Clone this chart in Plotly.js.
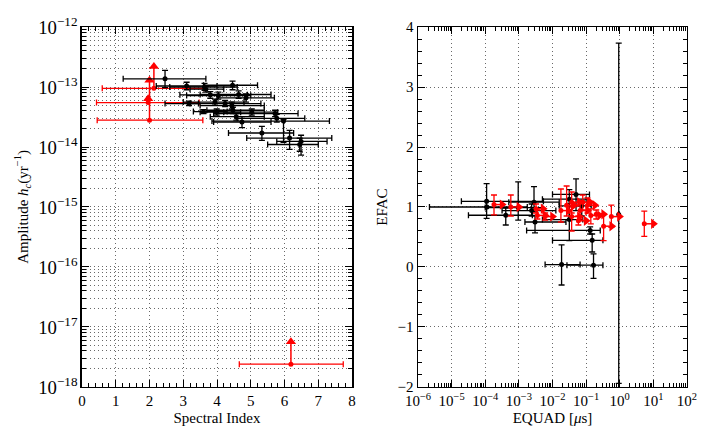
<!DOCTYPE html>
<html>
<head>
<meta charset="utf-8">
<script src="https://cdn.plot.ly/plotly-3.0.1.min.js"></script>
<style>body{margin:0}#plot{width:718px;height:448px}</style>
</head>
<body>
<div id="plot"></div>
<script>
// left panel: spectral index vs amplitude
var specIdx   = [2.46,3.10,3.63,3.67,4.46,3.80,4.04,4.64,4.86,3.17,3.94,4.24,4.44,3.60,3.99,4.47,5.03,4.57,4.74,5.72,5.77,5.97,5.33,6.15,6.49,6.45];
var specLo    = [1.22,2.20,2.60,3.20,3.60,2.90,3.10,3.50,4.00,2.46,3.00,3.20,3.50,3.30,3.50,3.70,4.20,3.80,3.90,3.90,4.60,3.85,4.34,4.88,5.77,5.50];
var specHi    = [3.67,4.00,4.60,4.20,5.20,4.90,5.00,5.60,5.70,3.45,4.80,5.30,5.40,4.30,4.70,5.40,5.80,5.40,5.60,6.40,6.60,7.33,6.27,7.40,7.26,7.00];
var amp       = [1.37e-13,1.04e-13,1.0e-13,0.92e-13,1.07e-13,7.4e-14,7.2e-14,7.5e-14,6.6e-14,5.3e-14,5.6e-14,5.3e-14,4.9e-14,3.9e-14,3.8e-14,4.1e-14,3.8e-14,3.2e-14,2.6e-14,3.6e-14,3.0e-14,2.7e-14,1.71e-14,1.41e-14,1.24e-14,1.1e-14];
var ampLo     = [0.98e-13,0.9e-13,0.88e-13,0.82e-13,0.9e-13,6.5e-14,6.3e-14,6.5e-14,5.6e-14,4.9e-14,5.0e-14,4.7e-14,4.3e-14,3.6e-14,3.4e-14,3.6e-14,3.4e-14,2.8e-14,2.1e-14,3.2e-14,2.6e-14,1.2e-14,1.29e-14,9.1e-15,7.3e-15,8.5e-15];
var ampHi     = [1.9e-13,1.2e-13,1.15e-13,1.02e-13,1.25e-13,8.4e-14,8.2e-14,8.6e-14,7.7e-14,5.8e-14,6.3e-14,6.0e-14,5.6e-14,4.2e-14,4.3e-14,4.6e-14,4.3e-14,3.6e-14,3.2e-14,4.1e-14,3.5e-14,2.9e-14,2.21e-14,1.9e-14,1.57e-14,1.4e-14];

var limIdx    = [2.00,1.96,2.13,6.19];
var limIdxLo  = [0.45,0.43,0.60,4.66];
var limIdxHi  = [3.58,3.47,3.60,7.74];
var limAmp    = [2.8e-14,5.5e-14,9.5e-14,2.4e-18];
var limAmpTip = [1.29e-13,6.4e-14,2.2e-13,5.7e-18];

// right panel: log10 EQUAD vs EFAC
var eqLog   = [-3.96,-3.95,-3.39,-3.02,-2.55,-2.62,-2.52,-1.73,-0.78,-0.88,-0.82,-1.50,-1.30,-1.13,-1.50,-0.03];
var eqLogLo = [-4.71,-5.66,-4.50,-4.00,-3.30,-3.50,-2.82,-2.22,-1.57,-2.77,-2.00,-2.30,-2.00,-1.80,-2.30,-0.03];
var eqLogHi = [-2.27,-2.75,-2.60,-2.30,-1.80,-1.90,-1.60,-1.18,-0.50,-0.58,-0.50,-1.00,-0.90,-0.85,-1.10,-0.03];
var efac    = [1.095,1.00,0.862,0.99,1.08,0.94,0.75,0.04,0.03,0.61,0.445,1.13,1.21,1.02,0.79,0.876];
var efacLo  = [0.81,1.00,0.70,0.78,0.92,0.85,0.57,-0.30,-0.19,0.55,0.25,0.78,0.94,0.85,0.44,-1.94];
var efacHi  = [1.39,1.00,0.98,1.42,1.34,1.05,0.86,0.37,0.22,0.67,0.55,1.29,1.47,1.10,1.06,3.73];

var limEqLog  = [-3.74,-3.24,-2.49,-2.45,-2.22,-1.75,-1.58,-1.43,-1.10,-0.96,-1.18,-1.43,-1.23,-0.86,-0.48,-0.25,0.73,-0.70];
var limEqTip  = [-3.50,-3.00,-2.28,-2.22,-2.00,-1.53,-1.36,-1.20,-0.88,-0.74,-0.96,-1.20,-1.00,-0.60,-0.24,-0.01,1.00,-0.48];
var limEfac   = [1.04,1.00,0.97,0.86,0.84,0.94,1.03,1.08,1.08,1.03,0.94,0.84,0.77,0.86,0.68,0.84,0.72,0.88];
var limEfacLo = [0.87,0.85,0.90,0.80,0.78,0.75,0.85,0.90,0.95,0.90,0.80,0.60,0.70,0.72,0.44,0.66,0.51,0.80];
var limEfacHi = [1.20,1.20,1.05,0.95,0.90,1.30,1.35,1.25,1.20,1.15,1.10,1.00,0.85,0.97,0.89,1.03,0.93,0.95];

// decade tick labels for the EQUAD axis
var eqDecades = [-6,-5,-4,-3,-2,-1,0,1,2];

function pow10(a) { return a.map(function (v) { return Math.pow(10, v); }); }
function diff(a, b) { return a.map(function (v, i) { return v - b[i]; }); }
function segs(x0, x1, y0, y1) {
  var xs = [], ys = [];
  for (var i = 0; i < x0.length; i++) { xs.push(x0[i], x1[i], null); ys.push(y0[i], y1[i], null); }
  return {x: xs, y: ys};
}

var RED = '#ff0000';
var eq = pow10(eqLog), eqLo = pow10(eqLogLo), eqHi = pow10(eqLogHi);
var leq = pow10(limEqLog), leqTip = pow10(limEqTip);
var upL = segs(limIdx, limIdx, limAmp, limAmpTip);
var upR = segs(leq, leqTip, limEfac, limEfac);

var data = [
  { x: limIdx, y: limAmp, type: 'scatter', mode: 'markers', xaxis: 'x', yaxis: 'y',
    marker: {color: RED, size: 5},
    error_x: {type: 'data', symmetric: false, array: diff(limIdxHi, limIdx), arrayminus: diff(limIdx, limIdxLo), color: RED, thickness: 1.3, width: 3} },
  { x: upL.x, y: upL.y, mode: 'lines', xaxis: 'x', yaxis: 'y', line: {color: RED, width: 1.5} },
  { x: limIdx, y: limAmpTip, mode: 'markers', xaxis: 'x', yaxis: 'y', marker: {color: RED, size: 9, symbol: 'triangle-up'} },
  { x: specIdx, y: amp, type: 'scatter', mode: 'markers', xaxis: 'x', yaxis: 'y',
    marker: {color: 'black', size: 5},
    error_x: {type: 'data', symmetric: false, array: diff(specHi, specIdx), arrayminus: diff(specIdx, specLo), color: 'black', thickness: 1.3, width: 3},
    error_y: {type: 'data', symmetric: false, array: diff(ampHi, amp), arrayminus: diff(amp, ampLo), color: 'black', thickness: 1.3, width: 3} },

  { x: eq, y: efac, type: 'scatter', mode: 'markers', xaxis: 'x2', yaxis: 'y2',
    marker: {color: 'black', size: 5},
    error_x: {type: 'data', symmetric: false, array: diff(eqHi, eq), arrayminus: diff(eq, eqLo), color: 'black', thickness: 1.3, width: 3},
    error_y: {type: 'data', symmetric: false, array: diff(efacHi, efac), arrayminus: diff(efac, efacLo), color: 'black', thickness: 1.3, width: 3} },
  { x: leq, y: limEfac, type: 'scatter', mode: 'markers', xaxis: 'x2', yaxis: 'y2',
    marker: {color: RED, size: 5},
    error_y: {type: 'data', symmetric: false, array: diff(limEfacHi, limEfac), arrayminus: diff(limEfac, limEfacLo), color: RED, thickness: 1.3, width: 3} },
  { x: upR.x, y: upR.y, mode: 'lines', xaxis: 'x2', yaxis: 'y2', line: {color: RED, width: 1.5} },
  { x: leqTip, y: limEfac, mode: 'markers', xaxis: 'x2', yaxis: 'y2', marker: {color: RED, size: 9, symbol: 'triangle-right'} }
];

var FONT = {family: 'Liberation Serif, serif', size: 15, color: 'black'};
var grid = {showgrid: true, gridcolor: '#444', gridwidth: 0.8, griddash: '1px,3px'};
function axis(extra) {
  var a = {showline: true, linecolor: 'black', linewidth: 1.5, mirror: 'allticks', ticks: 'inside', ticklen: 7,
           tickcolor: 'black', zeroline: false, tickfont: FONT};
  for (var k in grid) a[k] = grid[k];
  for (var k2 in extra) a[k2] = extra[k2];
  return a;
}

var layout = {
  width: 718, height: 448, margin: {l: 0, r: 0, t: 0, b: 0},
  showlegend: false, paper_bgcolor: 'white', plot_bgcolor: 'white', font: FONT,
  xaxis: axis({domain: [0.1142, 0.4903], range: [0, 8], dtick: 1, anchor: 'y',
    minor: {dtick: 0.2, ticks: 'inside', ticklen: 4, tickcolor: 'black', showgrid: false},
    title: {text: 'Spectral Index', font: FONT, standoff: 4}}),
  yaxis: axis({domain: [0.1362, 0.9397], type: 'log', range: [-18, -12], dtick: 1, exponentformat: 'power', anchor: 'x',
    minor: {dtick: 'D1', ticks: 'inside', ticklen: 4, tickcolor: 'black', showgrid: true, gridcolor: '#444', gridwidth: 0.8, griddash: '1px,3px'},
    title: {text: 'Amplitude <i>h</i><sub><i>c</i></sub>(yr<sup>−1</sup>)', font: FONT, standoff: 6}}),
  xaxis2: axis({domain: [0.5822, 0.9568], type: 'log', range: [-6, 2], anchor: 'y2',
    tickmode: 'array', tickvals: pow10(eqDecades),
    ticktext: eqDecades.map(function (d) { return '10<sup>' + String(d).replace('-', '−') + '</sup>'; }),
    minor: {dtick: 'D1', ticks: 'inside', ticklen: 4, tickcolor: 'black', showgrid: false},
    title: {text: 'EQUAD [<i>μ</i>s]', font: FONT, standoff: 4}}),
  yaxis2: axis({domain: [0.1362, 0.9397], range: [-2, 4], dtick: 1, anchor: 'x2',
    minor: {dtick: 0.2, ticks: 'inside', ticklen: 4, tickcolor: 'black', showgrid: false},
    title: {text: 'EFAC', font: FONT, standoff: 6}})
};

Plotly.newPlot('plot', data, layout, {displayModeBar: false, staticPlot: true});
</script>
</body>
</html>
